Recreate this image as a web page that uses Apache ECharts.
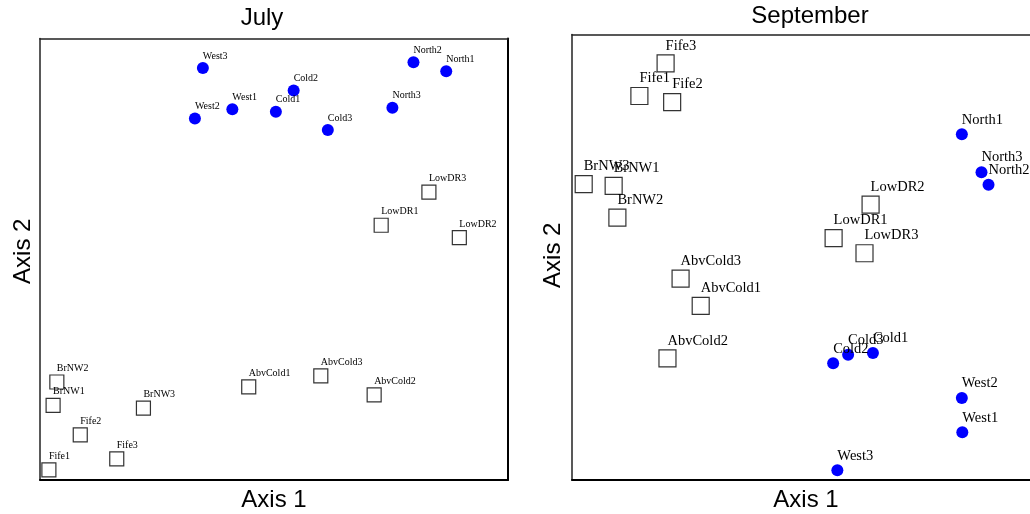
<!DOCTYPE html>
<html>
<head>
<meta charset="utf-8">
<script src="https://cdn.jsdelivr.net/npm/echarts@6/dist/echarts.min.js"></script>
<style>
  html, body { margin: 0; padding: 0; background: #fff; }
  #chart { width: 1030px; height: 514px; }
</style>
</head>
<body>
<div id="chart"></div>
<script>
// ---- July ordination scores (Axis 1, Axis 2), scaled 0-100 ----
const julyDotSites  = ['West3', 'North2', 'North1', 'Cold2', 'West1', 'Cold1', 'West2', 'North3', 'Cold3'];
const julyDotAxis1  = [34.8, 79.8, 86.8, 54.2, 41.1, 50.4, 33.1, 75.3, 61.5];
const julyDotAxis2  = [93.3, 94.6, 92.6, 88.2, 84.0, 83.4, 81.9, 84.3, 79.3];

const julyBoxSites  = ['LowDR3', 'LowDR1', 'LowDR2', 'BrNW2', 'BrNW1', 'BrNW3', 'Fife2', 'Fife3', 'Fife1', 'AbvCold1', 'AbvCold3', 'AbvCold2'];
const julyBoxAxis1  = [83.1, 72.9, 89.6, 3.6, 2.8, 22.1, 8.6, 16.4, 1.9, 44.6, 60.0, 71.4];
const julyBoxAxis2  = [65.2, 57.7, 54.9, 22.2, 16.9, 16.3, 10.2, 4.8, 2.3, 21.1, 23.6, 19.3];

// ---- September ordination scores ----
const sepDotSites   = ['North1', 'North3', 'North2', 'Cold3', 'Cold1', 'Cold2', 'West2', 'West1', 'West3'];
const sepDotAxis1   = [83.3, 87.5, 89.0, 59.0, 64.3, 55.8, 83.3, 83.4, 56.7];
const sepDotAxis2   = [77.6, 69.1, 66.3, 28.1, 28.5, 26.2, 18.4, 10.7, 2.2];

const sepBoxSites   = ['Fife3', 'Fife1', 'Fife2', 'BrNW3', 'BrNW1', 'BrNW2', 'LowDR2', 'LowDR1', 'LowDR3', 'AbvCold3', 'AbvCold1', 'AbvCold2'];
const sepBoxAxis1   = [20.0, 14.4, 21.4, 2.5, 8.9, 9.7, 63.8, 55.9, 62.5, 23.2, 27.5, 20.4];
const sepBoxAxis2   = [93.5, 86.2, 84.8, 66.4, 66.0, 58.9, 61.8, 54.3, 50.9, 45.2, 39.1, 27.3];

const panelTitles = ['July', 'September'];
const xTitle = 'Axis 1';
const yTitle = 'Axis 2';

function pts(names, xs, ys) {
  return names.map((n, i) => ({ name: n, value: [xs[i], ys[i]] }));
}

const SANS = 'Liberation Sans';
const SERIF = 'Liberation Serif';

function axesFor(gridIndex, rightLine, yShift, yGap) {
  const base = {
    gridIndex: gridIndex, type: 'value', min: 0, max: 100,
    axisTick: { show: false }, axisLabel: { show: false }, splitLine: { show: false }
  };
  const xs = [
    Object.assign({}, base, {
      position: 'bottom', name: xTitle, nameLocation: 'middle', nameGap: 8,
      nameTextStyle: { fontFamily: SANS, fontSize: 24, color: '#000' },
      axisLine: { show: true, onZero: false, lineStyle: { color: '#000', width: 2 } }
    }),
    Object.assign({}, base, {
      position: 'top',
      axisLine: { show: true, onZero: false, lineStyle: { color: '#222', width: 1.5 } }
    })
  ];
  const ys = [
    Object.assign({}, base, {
      position: 'left', name: yTitle, nameLocation: 'middle', nameGap: yGap,
      nameTextStyle: { fontFamily: SANS, fontSize: 24, color: '#000', padding: [0, 0, 0, yShift] },
      axisLine: { show: true, onZero: false, lineStyle: { color: '#222', width: 1.5 } }
    }),
    Object.assign({}, base, {
      position: 'right',
      axisLine: { show: rightLine, onZero: false, lineStyle: { color: '#000', width: 2 } }
    })
  ];
  return { xs, ys };
}

const a0 = axesFor(0, true, 16, 5);
const a1 = axesFor(1, false, 4, 6.5);

function dotSeries(data, xi, yi, fs) {
  return {
    type: 'scatter', xAxisIndex: xi, yAxisIndex: yi, data: data,
    symbol: 'circle', symbolSize: 12,
    itemStyle: { color: '#0000ff', opacity: 1 },
    label: { show: true, formatter: '{b}', position: 'top', align: 'left', distance: 1,
             fontFamily: SERIF, fontSize: fs, color: '#000' },
    emphasis: { disabled: true }, animation: false
  };
}
function boxSeries(data, xi, yi, fs, size) {
  return {
    type: 'scatter', xAxisIndex: xi, yAxisIndex: yi, data: data,
    symbol: 'rect', symbolSize: size,
    itemStyle: { color: '#fff', borderColor: '#333', borderWidth: 1.2, opacity: 1 },
    label: { show: true, formatter: '{b}', position: 'top', align: 'left', distance: 1,
             fontFamily: SERIF, fontSize: fs, color: '#000' },
    emphasis: { disabled: true }, animation: false
  };
}

const option = {
  backgroundColor: '#fff',
  animation: false,
  title: [
    { text: panelTitles[0], left: 262, top: 6, textAlign: 'center', padding: 0,
      textStyle: { fontFamily: SANS, fontSize: 24, fontWeight: 'normal', color: '#000' } },
    { text: panelTitles[1], left: 810, top: 4, textAlign: 'center', padding: 0,
      textStyle: { fontFamily: SANS, fontSize: 24, fontWeight: 'normal', color: '#000' } }
  ],
  grid: [
    { left: 40, top: 38.5, width: 468, bottom: 34, show: false, outerBoundsMode: 'none' },
    { left: 572, top: 34.5, width: 468, bottom: 34, show: false, outerBoundsMode: 'none' }
  ],
  xAxis: [a0.xs[0], a0.xs[1], a1.xs[0], a1.xs[1]],
  yAxis: [a0.ys[0], a0.ys[1], a1.ys[0], a1.ys[1]],
  series: [
    boxSeries(pts(julyBoxSites, julyBoxAxis1, julyBoxAxis2), 0, 0, 10, 14),
    dotSeries(pts(julyDotSites, julyDotAxis1, julyDotAxis2), 0, 0, 10),
    boxSeries(pts(sepBoxSites, sepBoxAxis1, sepBoxAxis2), 2, 2, 14.5, 17),
    dotSeries(pts(sepDotSites, sepDotAxis1, sepDotAxis2), 2, 2, 14.5)
  ]
};

const chart = echarts.init(document.getElementById('chart'), null, { renderer: 'canvas' });
chart.setOption(option);
</script>
</body>
</html>
